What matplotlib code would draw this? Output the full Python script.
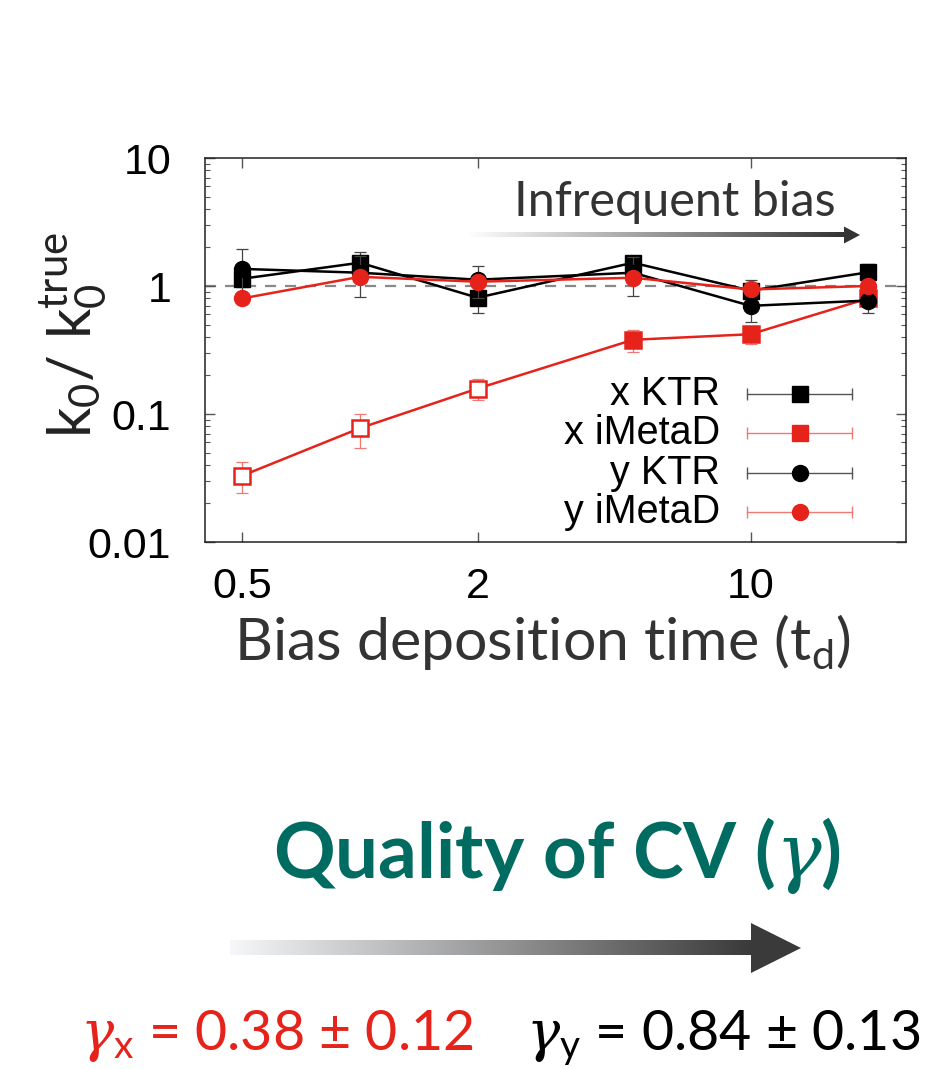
import numpy as np
import matplotlib
matplotlib.use('Agg')
import matplotlib.pyplot as plt
from matplotlib.colors import LinearSegmentedColormap
from matplotlib.patches import Polygon

# data
td = [0.5, 1, 2, 5, 10, 20]
x_ktr = [1.14, 1.52, 0.81, 1.52, 0.92, 1.28]
x_ktr_err = [0.15, 0.32, 0.19, 0.21, 0.19, 0.20]
y_ktr = [1.36, 1.27, 1.12, 1.27, 0.70, 0.77]
y_ktr_err = [0.60, 0.45, 0.31, 0.43, 0.18, 0.16]
x_imetad = [0.033, 0.0775, 0.158, 0.38, 0.42, 0.80]
x_imetad_err = [0.009, 0.023, 0.029, 0.075, 0.07, 0.08]
x_imetad_open = [True, True, True, False, False, False]
y_imetad = [0.80, 1.18, 1.08, 1.16, 0.94, 1.00]
y_imetad_err = [0.05, 0.08, 0.08, 0.08, 0.05, 0.05]

legend_labels = ['x KTR', 'x iMetaD', 'y KTR', 'y iMetaD']
xticks = [0.5, 2, 10]
xtick_labels = ['0.5', '2', '10']
yticks = [0.01, 0.1, 1, 10]
ytick_labels = ['0.01', '0.1', '1', '10']

RED = '#e5231b'
TEAL = '#006b61'
W, H = 927, 1069

plt.rcParams['mathtext.fontset'] = 'custom'
plt.rcParams['mathtext.rm'] = 'Lato'
plt.rcParams['mathtext.it'] = 'DejaVu Serif:italic'
plt.rcParams['mathtext.default'] = 'regular'

fig = plt.figure(figsize=(W / 100, H / 100), dpi=100)
ax = fig.add_axes([204.5 / W, 1 - 542 / H, (906 - 204.5) / W, (542 - 158) / H])
ax.set_xscale('log')
ax.set_yscale('log')

ax.axhline(1, color='#888888', lw=1.6, ls=(0, (5, 4)), zorder=1)

lw = 1.8
ms = 11.5
# x iMetaD (open markers for the first points)
ax.errorbar(td, x_imetad, yerr=x_imetad_err, color=RED, lw=lw, fmt='none',
            ecolor='#ef7a74', elinewidth=0.9, capsize=4, capthick=0.9, zorder=2)
ax.plot(td, x_imetad, color=RED, lw=lw, zorder=3)
for xv, yv, op in zip(td, x_imetad, x_imetad_open):
    ax.plot([xv], [yv], 's', ms=ms, mec=RED, mew=1.8,
            mfc='white' if op else RED, zorder=4)
# x KTR
ax.errorbar(td, x_ktr, yerr=x_ktr_err, color='black', lw=lw, marker='s', ms=ms,
            ecolor='#444444', elinewidth=0.9, capsize=4, capthick=0.9, zorder=5)
# y KTR
ax.errorbar(td, y_ktr, yerr=y_ktr_err, color='black', lw=lw, marker='o', ms=ms,
            ecolor='#444444', elinewidth=0.9, capsize=4, capthick=0.9, zorder=6)
# y iMetaD
ax.errorbar(td, y_imetad, yerr=y_imetad_err, color=RED, lw=lw, marker='o', ms=ms,
            ecolor='#ef7a74', elinewidth=0.9, capsize=4, capthick=0.9, zorder=7)

ax.set_xlim(0.4, 25)
ax.set_ylim(0.01, 10)
ax.set_xticks(xticks)
ax.set_xticklabels(xtick_labels)
ax.xaxis.set_minor_locator(matplotlib.ticker.NullLocator())
ax.set_yticks(yticks)
ax.set_yticklabels(ytick_labels)
ax.yaxis.set_minor_locator(matplotlib.ticker.LogLocator(base=10, subs=np.arange(2, 10)))
ax.yaxis.set_minor_formatter(matplotlib.ticker.NullFormatter())
ax.tick_params(which='both', direction='in', top=True, right=True, color='#555555')
ax.tick_params(which='major', length=7, width=1)
ax.tick_params(which='minor', length=3.5, width=0.8)
ax.tick_params(axis='y', pad=24, labelsize=31)
ax.tick_params(axis='x', pad=18, labelsize=31)
for lab in ax.get_xticklabels() + ax.get_yticklabels():
    lab.set_fontfamily('Liberation Sans')
for sp in ax.spines.values():
    sp.set_linewidth(1.1)
    sp.set_color('#222222')

# legend drawn gnuplot style (text on left, sample with horizontal bar)
leg_rows = [0.385, 0.284, 0.180, 0.078]
leg_colors = ['black', RED, 'black', RED]
leg_bar = ['#555555', '#ef7a74', '#555555', '#ef7a74']
leg_markers = ['s', 's', 'o', 'o']
for lab, yy, c, bc, m in zip(legend_labels, leg_rows, leg_colors, leg_bar, leg_markers):
    ax.text(0.735, yy, lab, transform=ax.transAxes, ha='right', va='center',
            fontsize=28.5, family='Liberation Sans', color='black')
    ax.plot([0.773, 0.923], [yy, yy], transform=ax.transAxes, color=bc, lw=1.0,
            clip_on=False, zorder=8)
    ax.plot([0.773, 0.923], [yy, yy], transform=ax.transAxes, ls='none', marker='|',
            ms=8, mew=1.0, color=bc, clip_on=False, zorder=8)
    ax.plot([0.849], [yy], transform=ax.transAxes, ls='none', marker=m, ms=ms,
            color=c, clip_on=False, zorder=9)

# axis labels and annotations
fig.text(74 / W, 1 - 335 / H, r'k$_\mathrm{0}$/ k$_\mathrm{0}^\mathrm{true}$', rotation=90,
         ha='center', va='center', fontsize=43, family='Lato', color='#222222')
fig.text(542 / W, 1 - 660 / H, r'Bias deposition time (t$_\mathrm{d}$)', ha='center',
         va='baseline', fontsize=42.5, family='Lato', color='#333333')
fig.text(514 / W, 1 - 216 / H, 'Infrequent bias', ha='left', va='baseline',
         fontsize=35, family='Lato', color='#333333')
fig.text(557 / W, 1 - 878 / H, r'Quality of CV ($\mathit{\gamma}$)', ha='center',
         va='baseline', fontsize=55, family='Lato', weight='bold', color=TEAL)
fig.text(80 / W, 1 - 1050 / H, r'$\mathit{\gamma}_\mathrm{x}$ = 0.38 ± 0.12', ha='left',
         va='baseline', fontsize=40, family='Lato', color=RED)
fig.text(920 / W, 1 - 1050 / H, r'$\mathit{\gamma}_\mathrm{y}$ = 0.84 ± 0.13', ha='right',
         va='baseline', fontsize=40, family='Lato', color='black')

# gradient arrows on a pixel-coordinate overlay
deco = fig.add_axes([0, 0, 1, 1], zorder=10)
deco.patch.set_alpha(0)


def grad_arrow(x0, x1, y, thick, head_len, head_h, c0, c1):
    cmap = LinearSegmentedColormap.from_list('g', [c0, c1])
    grad = np.linspace(0, 1, 256)[None, :]
    deco.imshow(grad, extent=[x0, x1, y + thick / 2, y - thick / 2], cmap=cmap,
                aspect='auto', interpolation='bilinear')
    deco.add_patch(Polygon([[x1 - 1, y - head_h / 2], [x1 + head_len, y],
                            [x1 - 1, y + head_h / 2]], closed=True, color=c1, lw=0))


grad_arrow(467, 845, 235, 4.5, 15, 17, '#ffffff', '#333333')
grad_arrow(230, 752, 948, 15, 49, 50, '#f6f7f9', '#3a3a3a')
deco.set_xlim(0, W)
deco.set_ylim(H, 0)
deco.axis('off')

fig.savefig('out.png', dpi=100)
